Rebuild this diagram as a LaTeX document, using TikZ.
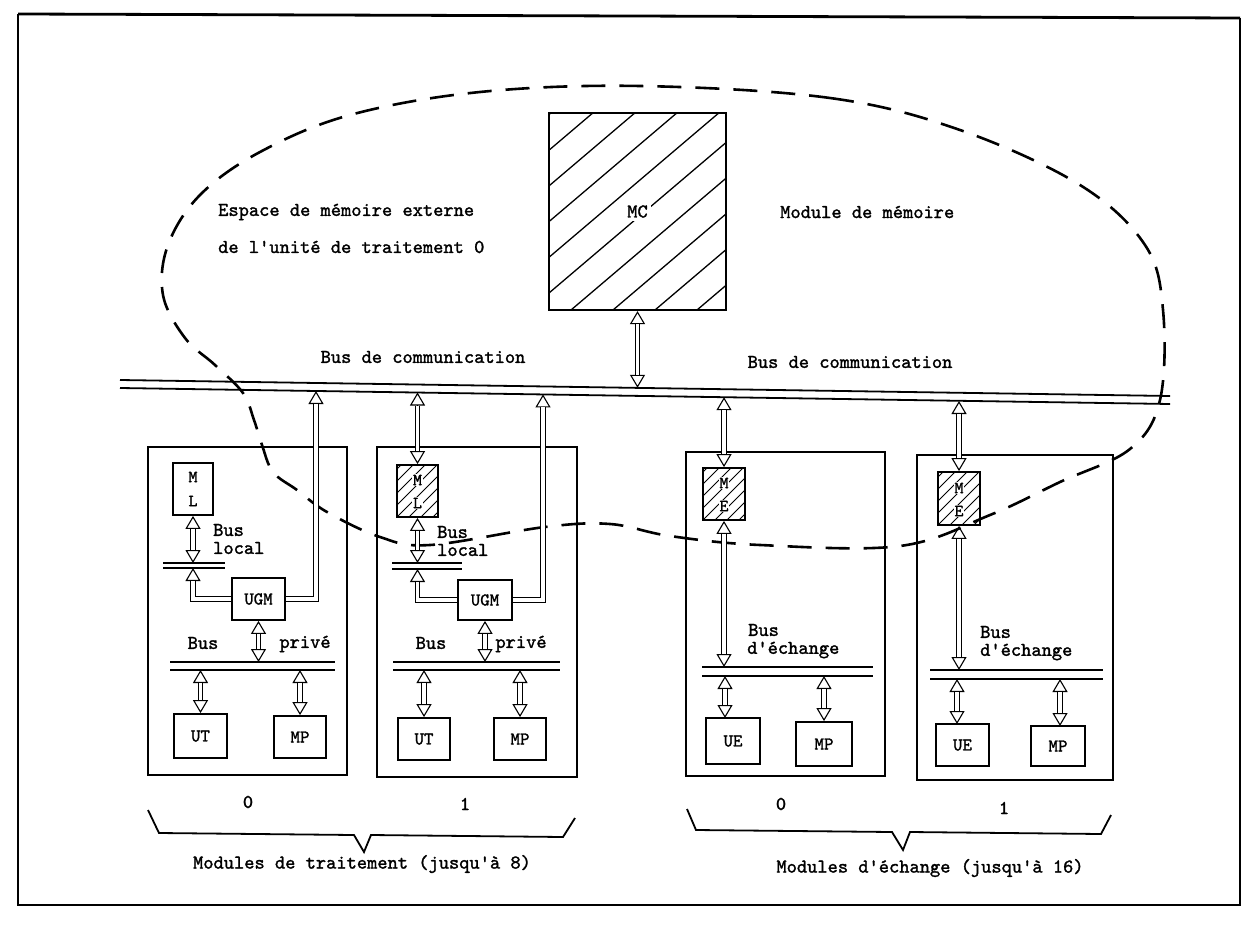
\documentclass[tikz,border=0pt]{standalone}
\usepackage{fontspec}
\newfontfamily\tw{lmmono10-regular}[Extension=.otf,FakeBold=1.5]
\usetikzlibrary{arrows.meta,calc}
\tikzset{
  hd/.tip={Triangle[open,length=13pt,width=15pt,line width=1.1pt]},
  bi/.style={draw,line width=1.1pt,{hd}-{hd},postaction={draw,arrows=-,line width=1.1pt,double=white,double distance=3.4pt,shorten <=13pt,shorten >=13pt}},
  uni/.style={draw,line width=1.1pt,-{hd},postaction={draw,arrows=-,line width=1.1pt,double=white,double distance=3.4pt,shorten >=13pt}},
  modbox/.style={draw,line width=2.2pt,inner sep=0pt},
  unit/.style={draw,line width=1.8pt,inner sep=0pt,font=\tw\fontsize{18}{18}\selectfont},
  lab/.style={inner sep=0pt,font=\tw\fontsize{19.5}{21}\selectfont},
  letter/.style={inner sep=1pt,fill=white,font=\tw\fontsize{17}{17}\selectfont},
  busline/.style={line width=1.8pt},
  cloudline/.style={line width=2.6pt,dash pattern=on 24pt off 14pt},
  bracel/.style={line width=1.8pt},
  smallhatch/.style={path picture={\foreach \i in {-60,-48,...,48} \draw[line width=1pt] ($(path picture bounding box.south west)+(\i,0)$) -- ++(70,-70);}},
  bighatch/.style={path picture={\foreach \i in {-230,-188,...,190} \draw[line width=1.3pt] ($(path picture bounding box.south west)+(\i,0)$) -- ++(260,-221);}},
}
\begin{document}
\begin{tikzpicture}[x=1pt,y=-1pt]
\useasboundingbox (0,0) rectangle (1246,928);
% frame
\draw[line width=2.8pt] (18,14) -- (1240,18);
\draw[line width=1.6pt] (18,14) -- (18,905) -- (1240,905) -- (1240,18);

% memory module MC
\node[draw,line width=2.2pt,minimum width=177pt,minimum height=197pt,inner sep=0pt,bighatch] (MC) at (637.5,211.5) {};
\node[lab,fill=white,inner sep=3pt] (MClab) at (MC.center) {MC};

% cloud
\draw[cloudline] plot[smooth cycle,tension=0.6] coordinates {
 (640,86) (830,98) (960,130) (1080,185) (1145,245) (1163,310) (1160,400) (1130,449)
 (1060,482) (990,515) (900,546) (760,545) (670,536) (610,524) (545,527) (430,545)
 (380,537) (327,512) (297,490) (273,472) (262,445) (254,420) (243,393) (215,365)
 (185,338) (163,295) (168,245) (200,195) (260,152) (350,115) (480,92)};

\node[lab,anchor=west] (t1) at (218,212) {Espace de mémoire externe};
\node[lab,anchor=west] (t2) at (218,247) {de l\textquotesingle unité de traitement 0};
\node[lab,anchor=west] (t3) at (780,212) {Module de mémoire};

% communication bus
\coordinate (cbTL) at (120,380); \coordinate (cbTR) at (1170,396);
\coordinate (cbBL) at (120,388); \coordinate (cbBR) at (1170,404);
\draw[busline] (cbTL) -- (cbTR);
\draw[busline] (cbBL) -- (cbBR);
\node[lab] (cb1) at (423,357) {Bus de communication};
\node[lab] (cb2) at (850,362) {Bus de communication};
\coordinate (mcb) at (637.5,387.8);
\draw[bi] (MC.south) -- (mcb);

% ===== Module de traitement 0
\node[modbox,minimum width=199pt,minimum height=328pt] (P0) at (247.5,611) {};
\node[unit,minimum width=40pt,minimum height=52pt] (P0ML) at (193,489) {};
\node[letter] (P0m) at (193,477) {M};
\node[letter] (P0l) at (193,501) {L};
\node[unit,minimum width=53pt,minimum height=42pt] (P0UGM) at (258.5,599) {UGM};
\node[unit,minimum width=53pt,minimum height=44pt] (P0UT) at (200.5,736) {UT};
\node[unit,minimum width=52pt,minimum height=42pt] (P0MP) at (300,737) {MP};
\draw[busline] (163,563) -- (225,563); \draw[busline] (163,568) -- (225,568);
\draw[busline] (170,662) -- (335,662); \draw[busline] (170,670) -- (335,670);
\coordinate (P0lbT) at (193,563); \coordinate (P0lbB) at (193,568);
\coordinate (P0pbT) at (258.5,662); \coordinate (P0pbB1) at (200.5,670); \coordinate (P0pbB2) at (300,670);
\coordinate (P0cb) at (316,391);
\draw[bi] (P0ML.south) -- (P0lbT);
\draw[uni] (P0UGM.west) -| (P0lbB);
\draw[uni] (P0UGM.east) -| (P0cb);
\draw[bi] (P0UGM.south) -- (P0pbT);
\draw[bi] (P0pbB1) -- (P0UT.north);
\draw[bi] (P0pbB2) -- (P0MP.north);
\node[lab,anchor=west] (P0b1) at (213,530) {Bus};
\node[lab,anchor=west] (P0b2) at (213,548) {local};
\node[lab] (P0b3) at (203,643) {Bus};
\node[lab] (P0b4) at (305,644) {privé};

% ===== Module de traitement 1
\node[modbox,minimum width=200pt,minimum height=330pt] (P1) at (477,612) {};
\node[unit,smallhatch,minimum width=41pt,minimum height=52pt] (P1ML) at (417.5,491) {};
\node[letter] (P1m) at (417.5,480) {M};
\node[letter] (P1l) at (417.5,503) {L};
\node[unit,minimum width=54pt,minimum height=40pt] (P1UGM) at (485,600) {UGM};
\node[unit,minimum width=52pt,minimum height=42pt] (P1UT) at (424,739) {UT};
\node[unit,minimum width=52pt,minimum height=42pt] (P1MP) at (520,739) {MP};
\draw[busline] (392,563) -- (462,563); \draw[busline] (392,569) -- (462,569);
\draw[busline] (393,662) -- (560,662); \draw[busline] (393,670) -- (560,670);
\coordinate (P1lbT) at (417.5,563); \coordinate (P1lbB) at (417.5,569);
\coordinate (P1pbT) at (485,662); \coordinate (P1pbB1) at (424,670); \coordinate (P1pbB2) at (520,670);
\coordinate (P1cb1) at (417.5,392.5); \coordinate (P1cb2) at (543,394.4);
\draw[bi] (P1cb1) -- (P1ML.north);
\draw[bi] (P1ML.south) -- (P1lbT);
\draw[uni] (P1UGM.west) -| (P1lbB);
\draw[uni] (P1UGM.east) -| (P1cb2);
\draw[bi] (P1UGM.south) -- (P1pbT);
\draw[bi] (P1pbB1) -- (P1UT.north);
\draw[bi] (P1pbB2) -- (P1MP.north);
\node[lab,anchor=west] (P1b1) at (437,532) {Bus};
\node[lab,anchor=west] (P1b2) at (437,550) {local};
\node[lab] (P1b3) at (431,643) {Bus};
\node[lab] (P1b4) at (521,644) {privé};

% ===== Module d'echange 0
\node[modbox,minimum width=199pt,minimum height=324pt] (E0) at (785.5,614) {};
\node[unit,smallhatch,minimum width=42pt,minimum height=52pt] (E0ME) at (724,494) {};
\node[letter] (E0m) at (724,483) {M};
\node[letter] (E0e) at (724,506) {E};
\node[unit,minimum width=54pt,minimum height=46pt] (E0UE) at (733,741) {UE};
\node[unit,minimum width=56pt,minimum height=44pt] (E0MP) at (824,744) {MP};
\draw[busline] (702,667) -- (873,667); \draw[busline] (702,676) -- (873,676);
\coordinate (E0cb) at (724,397.2);
\coordinate (E0ebT) at (724,667); \coordinate (E0ebB1) at (725,676); \coordinate (E0ebB2) at (824,676);
\coordinate (E0ue) at (725,718);
\draw[bi] (E0cb) -- (E0ME.north);
\draw[bi] (E0ME.south) -- (E0ebT);
\draw[bi] (E0ebB1) -- (E0ue);
\draw[bi] (E0ebB2) -- (E0MP.north);
\node[lab,anchor=west] (E0b1) at (748,630) {Bus};
\node[lab,anchor=west] (E0b2) at (747,650) {d\textquotesingle échange};

% ===== Module d'echange 1
\node[modbox,minimum width=196pt,minimum height=325pt] (E1) at (1015,617.5) {};
\node[unit,smallhatch,minimum width=42pt,minimum height=53pt] (E1ME) at (959,498.5) {};
\node[letter] (E1m) at (959,488) {M};
\node[letter] (E1e) at (959,511) {E};
\node[unit,minimum width=53pt,minimum height=42pt] (E1UE) at (962.5,745) {UE};
\node[unit,minimum width=54pt,minimum height=40pt] (E1MP) at (1058,746) {MP};
\draw[busline] (930,670) -- (1103,670); \draw[busline] (930,679) -- (1103,679);
\coordinate (E1cb) at (959,401);
\coordinate (E1ebT) at (959,670); \coordinate (E1ebB1) at (957,679); \coordinate (E1ebB2) at (1060,679);
\coordinate (E1ue) at (957,724); \coordinate (E1mp) at (1060,726);
\draw[bi] (E1cb) -- (E1ME.north);
\draw[bi] (E1ME.south) -- (E1ebT);
\draw[bi] (E1ebB1) -- (E1ue);
\draw[bi] (E1ebB2) -- (E1mp);
\node[lab,anchor=west] (E1b1) at (980,632) {Bus};
\node[lab,anchor=west] (E1b2) at (980,652) {d\textquotesingle échange};

% numbers and braces
\node[lab] (n0) at (248,802) {0};
\node[lab] (n1) at (465,804) {1};
\node[lab] (n2) at (781,804) {0};
\node[lab] (n3) at (1004,808) {1};
\draw[bracel] (148,810) -- (159,833) -- (354,835) -- (364,852) -- (371,835) -- (563,837) -- (575,818);
\draw[bracel] (687,809) -- (696,830) -- (892,832) -- (903,850) -- (910,832) -- (1101,834) -- (1111,815);
\node[lab] (g1) at (362,864) {Modules de traitement (jusqu\textquotesingle à 8)};
\node[lab] (g2) at (930,868) {Modules d\textquotesingle échange (jusqu\textquotesingle à 16)};
\end{tikzpicture}
\end{document}
